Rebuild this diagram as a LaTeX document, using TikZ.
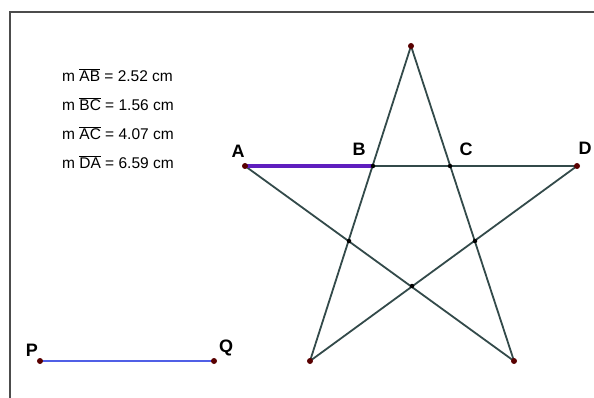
\documentclass[tikz,border=0pt]{standalone}
\usepackage{fontspec}
\setmainfont{Liberation Sans}
\begin{document}
\begin{tikzpicture}[x=1pt,y=-1pt,
  starline/.style={draw=black!70!teal!60!gray, line width=1.8pt},
  vdot/.style={circle, fill=black!65!red, inner sep=0pt, minimum size=6pt},
  idot/.style={circle, fill=black, inner sep=0pt, minimum size=4.5pt},
  ptlabel/.style={font=\fontsize{18}{20}\selectfont\bfseries, inner sep=0pt},
  meas/.style={font=\fontsize{15.5}{18}\selectfont, anchor=west, inner sep=0pt}]
\useasboundingbox (0,0) rectangle (594,398);
\fill[white] (0,0) rectangle (594,398);
\draw[gray!60!black, line width=1.6pt] (10,398) -- (10,12) -- (594,12);
% points
\coordinate (T) at (411,46);
\coordinate (A) at (245,166);
\coordinate (D) at (577,166);
\coordinate (L) at (310,361);
\coordinate (R) at (514,361);
\coordinate (B) at (373,166);
\coordinate (C) at (450,166);
\coordinate (P) at (40,361);
\coordinate (Q) at (214,361);
\coordinate (I1) at (349,241);
\coordinate (I2) at (475,241);
\coordinate (I3) at (412,286);
% star
\draw[starline] (A) -- (D);
\draw[starline] (A) -- (R);
\draw[starline] (D) -- (L);
\draw[starline] (T) -- (L);
\draw[starline] (T) -- (R);
\draw[draw={rgb,255:red,95;green,30;blue,190}, line width=3.8pt] (A) -- (B);
\draw[draw={rgb,255:red,80;green,95;blue,230}, line width=1.6pt] (P) -- (Q);
% dots
\foreach \p in {T,A,D,L,R,P,Q} \node[vdot] at (\p) {};
\foreach \p in {I1,I2,I3,B,C} \node[idot] at (\p) {};
% labels
\node[ptlabel] (lA) at (238,151) {A};
\node[ptlabel] (lB) at (359,149) {B};
\node[ptlabel] (lC) at (466,149) {C};
\node[ptlabel] (lD) at (585,148) {D};
\node[ptlabel] (lP) at (32,350) {P};
\node[ptlabel] (lQ) at (226,348) {Q};
% measurements
\node[meas] (m1) at (62,75) {m $\overline{\hbox{AB}}$ = 2.52 cm};
\node[meas] (m2) at (62,104) {m $\overline{\hbox{BC}}$ = 1.56 cm};
\node[meas] (m3) at (62,133) {m $\overline{\hbox{AC}}$ = 4.07 cm};
\node[meas] (m4) at (62,162) {m $\overline{\hbox{DA}}$ = 6.59 cm};
\end{tikzpicture}
\end{document}
